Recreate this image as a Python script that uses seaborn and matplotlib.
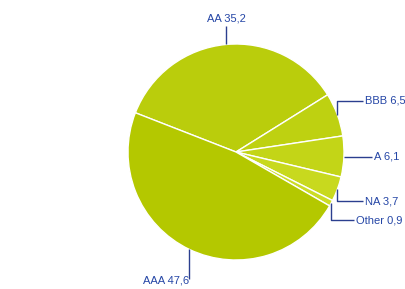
import numpy as np
import matplotlib
matplotlib.use("Agg")
import matplotlib.pyplot as plt
import seaborn as sns

labels = ["AA", "BBB", "A", "NA", "Other", "AAA"]
values = [35.2, 6.5, 6.1, 3.7, 0.9, 47.6]
colors = ["#bacd0c", "#bed111", "#c3d517", "#c8d91e", "#ccdc25", "#b4c800"]
# elbow offsets for the leader lines: (vertical extent, horizontal extent) in px
elbows = [(18, 0), (14, 26), (0, 28), (-12, 26), (-17, 23), (-30, 0)]

sns.set_style("white")
plt.rcParams["font.family"] = ["Liberation Sans", "DejaVu Sans"]

fig = plt.figure(figsize=(4.05, 2.89), dpi=100)
ax = fig.add_axes([0, 0, 1, 1])
ax.set_xlim(0, 405)
ax.set_ylim(0, 289)
ax.set_aspect("equal")
ax.axis("off")

cx, cy, r = 236, 137, 108
start = 158.7
wedges, _ = ax.pie(values, colors=colors, startangle=start, counterclock=False,
                   center=(cx, cy), radius=r, frame=True,
                   wedgeprops=dict(edgecolor="white", linewidth=1))
ax.set_xlim(0, 405)
ax.set_ylim(0, 289)
ax.axis("off")

line_c = "#2b3f8f"
text_c = "#2546a6"
for w, lab, v, (dv, dh) in zip(wedges, labels, values, elbows):
    mid = np.deg2rad((w.theta1 + w.theta2) / 2)
    x0 = cx + r * np.cos(mid)
    y0 = cy + r * np.sin(mid)
    x1, y1 = x0, y0 + dv
    x2, y2 = x1 + dh, y1
    ax.plot([x0, x1, x2], [y0, y1, y2], color=line_c, lw=1, solid_capstyle="butt")
    txt = f"{lab} {v:.1f}".replace(".", ",")
    if dh > 0:
        ax.text(x2 + 2, y2, txt, ha="left", va="center", color=text_c, fontsize=8)
    elif dv > 0:
        ax.text(x2, y2 + 3, txt, ha="center", va="bottom", color=text_c, fontsize=8)
    else:
        ax.text(x2, y2 - 1, txt, ha="right", va="center", color=text_c, fontsize=8)

fig.savefig("out.png", dpi=100)
